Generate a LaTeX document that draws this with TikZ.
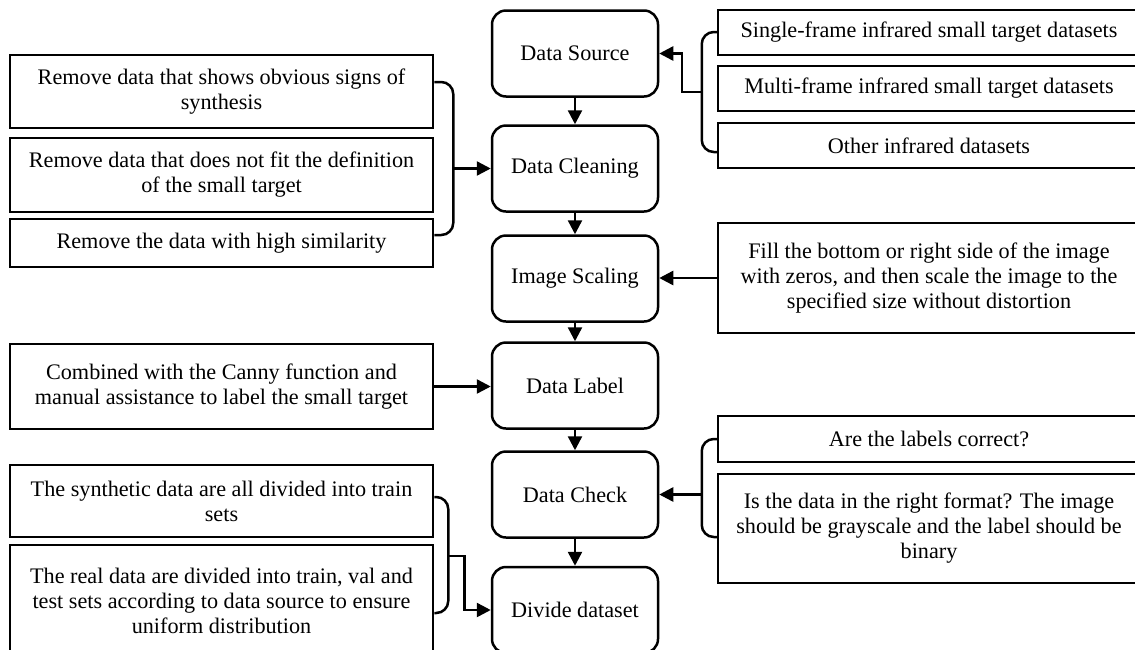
\documentclass[tikz,border=0pt]{standalone}
\usepackage{fontspec}
\setmainfont{Liberation Serif}
\usetikzlibrary{arrows.meta,calc}

\tikzset{
  stage/.style={draw, line width=2.5pt, rounded corners=14pt, inner sep=0pt,
    minimum width=166pt, minimum height=86pt, align=center},
  note/.style={draw, line width=2.5pt, inner sep=0pt, align=center},
  lnote/.style={note, minimum width=423pt},
  rnote/.style={note, minimum width=422pt},
  arr/.style={line width=2.5pt, -{Triangle[length=14pt,width=14pt]}},
  brace/.style={line width=2.5pt, rounded corners=12pt},
}

\begin{document}
\begin{tikzpicture}[x=1pt, y=-1pt, font=\fontsize{22.2}{25}\selectfont]
\useasboundingbox (0,0) rectangle (1135,649);
\clip (0,0) rectangle (1135,649);

% central pipeline
\node[stage] (src)    at (575,53.5)  {Data Source};
\node[stage] (clean)  at (575,168.5) {Data Cleaning};
\node[stage] (scale)  at (575,278.5) {Image Scaling};
\node[stage] (label)  at (575,385.5) {Data Label};
\node[stage] (check)  at (575,494.5) {Data Check};
\node[stage] (divide) at (575,610)   {Divide dataset};

\draw[arr] (src)   -- (clean);
\draw[arr] (clean) -- (scale);
\draw[arr] (scale) -- (label);
\draw[arr] (label) -- (check);
\draw[arr] (check) -- (divide);

% left-hand notes
\node[lnote, minimum height=73pt]  (L1) at (221.5,91.5)
  {Remove data that shows obvious signs of\\synthesis};
\node[lnote, minimum height=74pt]  (L2) at (221.5,175)
  {Remove data that does not fit the definition\\of the small target};
\node[lnote, minimum height=48pt]  (L3) at (221.5,243)
  {Remove the data with high similarity};
\node[lnote, minimum height=85pt]  (L4) at (221.5,386.5)
  {Combined with the Canny function and\\manual assistance to label the small target};
\node[lnote, minimum height=72pt]  (L5) at (221.5,501)
  {The synthetic data are all divided into train\\sets};
\node[lnote, minimum height=112pt] (L6) at (221.5,601)
  {The real data are divided into train, val and\\test sets according to data source to ensure\\uniform distribution};

% right-hand notes
\node[rnote, minimum height=45pt]  (R1) at (929,32.5)
  {Single-frame infrared small target datasets};
\node[rnote, minimum height=45pt]  (R2) at (929,88.5)
  {Multi-frame infrared small target datasets};
\node[rnote, minimum height=45pt]  (R3) at (929,145.5)
  {Other infrared datasets};
\node[rnote, minimum height=110pt] (R4) at (929,278)
  {Fill the bottom or right side of the image\\with zeros, and then scale the image to the\\specified size without distortion};
\node[rnote, minimum height=46pt]  (R5) at (929,439)
  {Are the labels correct?};
\node[rnote, minimum height=109pt] (R6) at (929,528.5)
  {Is the data in the right format? The image\\should be grayscale and the label should be\\binary};

% cleaning rules
\draw[brace] ($(L1.east)+(0,-9.5)$) -- ++(19,0) |- ($(L3.east)+(0,-8)$);
\coordinate (bl1) at ($(L1.east)+(19,0)$);
\draw[arr] (bl1 |- clean.west) -- (clean.west);

% data sources
\draw[brace] ($(R1.west)+(0,-0.5)$) -- ++(-15,0) |- ($(R3.west)+(0,6.5)$);
\coordinate (br1) at ($(R2.west)+(-15,3.5)$);
\draw[arr] (br1) -- ++(-20,0) |- (src.east);

% scaling rule
\draw[arr] (R4.west) -- (R4.west -| scale.east);

% labelling rule
\draw[arr] (L4.east) -- (L4.east -| label.west);

% checks
\draw[brace] (R5.west) -- ++(-15,0) |- ($(R6.west)+(0,8.5)$);
\coordinate (br2) at ($(R5.west)+(-15,0)$);
\draw[arr] (br2 |- check.east) -- (check.east);

% split rules
\draw[brace] ($(L5.east)+(0,-4)$) -- ++(14,0) |- ($(L6.east)+(0,12)$);
\coordinate (bl2) at ($(L5.east)+(14,55)$);
\draw[arr] (bl2) -- ++(16,0) |- (divide.west);
\end{tikzpicture}
\end{document}
